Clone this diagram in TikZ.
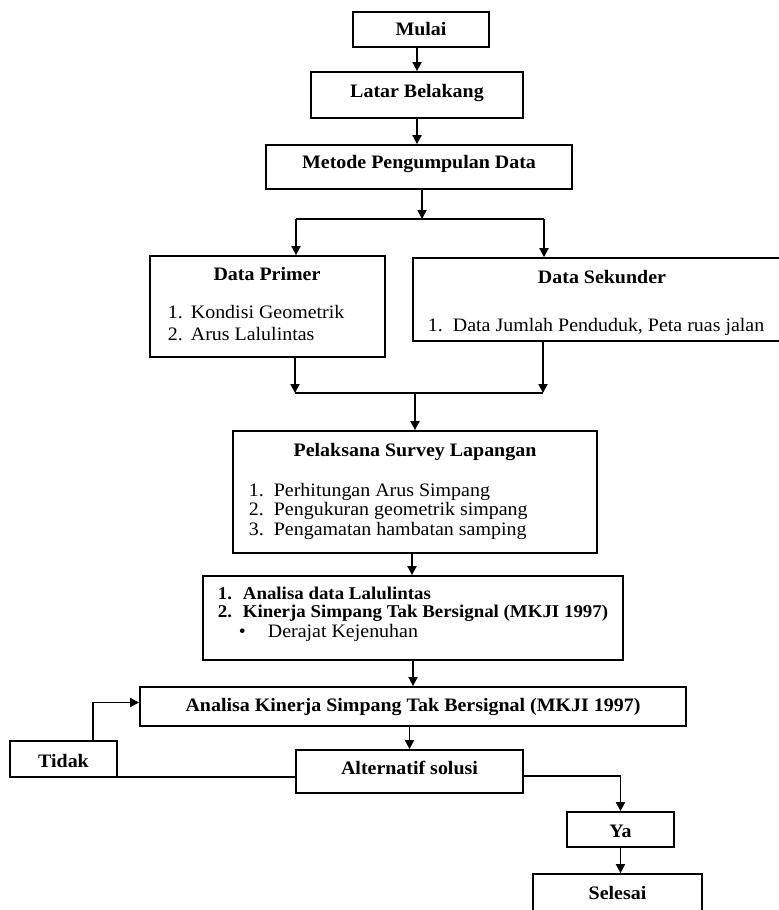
\documentclass[tikz,border=0pt]{standalone}
\usepackage{fontspec}
\setmainfont{Liberation Serif}[FakeStretch=1.05]
\usetikzlibrary{arrows.meta}

\newcommand{\numitem}[3][12.5pt]{\makebox[#1][l]{#2}#3}

\begin{document}
\begin{tikzpicture}[x=0.5pt, y=-0.5pt, line width=0.9pt, >={Triangle[length=4.5pt, width=4.5pt]},
    box/.style={draw, rectangle, inner sep=0pt, fill=none},
    title/.style={anchor=base, inner sep=0pt, font=\fontsize{9.5}{10}\selectfont\bfseries},
    item/.style={anchor=base west, inner sep=0pt, font=\fontsize{9.5}{10}\selectfont}]
    \useasboundingbox (0,0) rectangle (779,910);
    \clip (0,0) rectangle (779,910);

    \node[box, minimum width=68pt, minimum height=17.5pt] (mulai) at (421, 29.5) {};
    \node[title] (mulai-t) at (421, 35) {Mulai};
    \node[box, minimum width=106pt, minimum height=23pt] (latar) at (417, 95) {};
    \node[title] (latar-t) at (417, 97) {Latar Belakang};
    \node[box, minimum width=153pt, minimum height=22pt] (metode) at (419, 167) {};
    \node[title] (metode-t) at (419, 168) {Metode Pengumpulan Data};

    % data primer dan sekunder
    \node[box, minimum width=117.5pt, minimum height=50.5pt] (dp) at (267.5, 306.5) {};
    \node[title] (dp-t) at (267, 280) {Data Primer};
    \node[item] (dp1) at (167, 318) {\numitem[11.5pt]{1.}{Kondisi Geometrik}};
    \node[item] (dp2) at (167, 340) {\numitem[11.5pt]{2.}{Arus Lalulintas}};
    \node[box, minimum width=186pt, minimum height=41.5pt] (ds) at (599, 299.5) {};
    \node[title] (ds-t) at (602, 283) {Data Sekunder};
    \node[item] (ds1) at (427, 331) {\numitem{1.}{Data Jumlah Penduduk, Peta ruas jalan}};

    \node[box, minimum width=182pt, minimum height=61pt] (pel) at (415, 492) {};
    \node[title] (pel-t) at (415, 456) {Pelaksana Survey Lapangan};
    \node[item] (pel1) at (248, 496) {\numitem{1.}{Perhitungan Arus Simpang}};
    \node[item] (pel2) at (248, 515) {\numitem{2.}{Pengukuran geometrik simpang}};
    \node[item] (pel3) at (248, 535) {\numitem{3.}{Pengamatan hambatan samping}};

    \node[box, minimum width=210pt, minimum height=42pt] (ana) at (413, 618) {};
    \node[item, font=\fontsize{9}{10}\selectfont\bfseries] (ana1) at (217, 599) {\numitem{1.}{Analisa data Lalulintas}};
    \node[item, font=\fontsize{9}{10}\selectfont\bfseries] (ana2) at (217, 617) {\numitem{2.}{Kinerja Simpang Tak Bersignal (MKJI 1997)}};
    \node[item] (ana3) at (238, 637) {\makebox[14.5pt][l]{\textbullet}Derajat Kejenuhan};

    \node[box, minimum width=273pt, minimum height=19.5pt] (aks) at (413, 706.5) {};
    \node[title] (aks-t) at (413, 711) {Analisa Kinerja Simpang Tak Bersignal (MKJI 1997)};
    \node[box, minimum width=113.5pt, minimum height=21.5pt] (alt) at (409.5, 771.5) {};
    \node[title] (alt-t) at (409.5, 774) {Alternatif solusi};
    \node[box, minimum width=53.5pt, minimum height=18pt] (tdk) at (63.5, 759) {};
    \node[title] (tdk-t) at (63.5, 767) {Tidak};
    \node[box, minimum width=53.5pt, minimum height=17.5pt] (ya) at (620.5, 829.5) {};
    \node[title] (ya-t) at (620.5, 837) {Ya};
    \node[box, minimum width=84.5pt, minimum height=20pt] (sel) at (617.5, 894) {};
    \node[title] (sel-t) at (617.5, 899) {Selesai};

    \coordinate (splitl) at (296, 219);
    \coordinate (splitr) at (544, 219);
    \coordinate (mergel) at (295, 393);
    \coordinate (merger) at (543, 393);

    \draw [->] (mulai.south -| latar) -- (latar.north);
    \draw [->] (latar.south) -- (latar.south |- metode.north);
    \draw [->] ([xshift=1.5pt]metode.south) -- ([xshift=1.5pt]metode.south |- splitl);
    \draw (splitl) -- (splitr);
    \draw [->] (splitl) -- (splitl |- dp.north);
    \draw [->] (splitr) -- (splitr |- ds.north);
    \draw [->] (dp.south -| mergel) -- (mergel);
    \draw [->] (ds.south -| merger) -- (merger);
    \draw (mergel) -- (merger);
    \draw [->] (pel.north |- mergel) -- (pel.north);
    \draw [->] ([xshift=-1.5pt]pel.south) -- ([xshift=-1.5pt]pel.south |- ana.north);
    \draw [->] (ana.south) -- (aks.north);
    \draw [->] (alt.north |- aks.south) -- (alt.north);
    \draw [->] ([xshift=14.75pt]tdk.north) |- ([yshift=2pt]aks.west);
    \draw ([yshift=0.5pt]tdk.south east) -- ([yshift=0.5pt]tdk.south east -| alt.west);
    \draw [->] ([yshift=-2.25pt]alt.east) -| (ya.north);
    \draw [->] (ya.south) -- (ya.south |- sel.north);
\end{tikzpicture}
\end{document}
